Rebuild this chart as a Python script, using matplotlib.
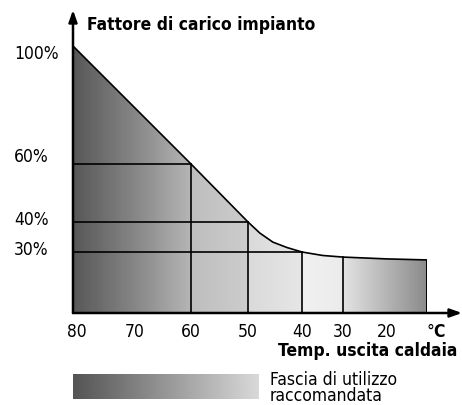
import numpy as np
import matplotlib

matplotlib.use("Agg")
import matplotlib.pyplot as plt
from matplotlib.patches import Polygon
from matplotlib.scale import FuncScale

plt.rcParams["font.family"] = ["DejaVu Sans"]
plt.rcParams["font.stretch"] = "condensed"

# curve: boiler outlet temperature (°C) vs plant load factor (%)
temp = [80, 60, 50, 47.8, 45.4, 42.8, 40, 35, 30, 20, 11]
load = [100, 60, 40, 36.3, 33.3, 31.5, 30, 28.3, 27.5, 26.6, 26.1]

x_ticks = [80, 70, 60, 50, 40, 30, 20]
y_ticks = [100, 60, 40, 30]
y_tick_labels = ["100%", "60%", "40%", "30%"]

# grid cells: (temperature, load) corners drawn back to the axes
h_lines = [(60, 60), (50, 40), (40, 30)]
v_lines = [(60, 60), (50, 40), (40, 30), (30, 27.5), (11, 26.1)]

# schematic (non-linear) axes as drawn in the original
x_src = [11, 20, 30, 40, 50, 60, 70, 80]
x_px = [0, 40, 84, 125, 179, 236, 292, 354]
y_src = [0, 30, 40, 60, 100]
y_px = [0, 61, 91, 149, 267]


def fx(t):
    return np.interp(t, x_src, x_px)


def fx_inv(p):
    return np.interp(p, x_px, x_src)


def fy(v):
    return np.interp(v, y_src, y_px)


def fy_inv(p):
    return np.interp(p, y_px, y_src)


W, H = 462, 406
fig = plt.figure(figsize=(W / 100, H / 100), dpi=100)
ax = fig.add_axes([73 / W, (H - 314) / H, 354 / W, 267 / H])
ax.set_xscale(FuncScale(ax, (fx, fx_inv)))
ax.set_yscale(FuncScale(ax, (fy, fy_inv)))
ax.set_xlim(80, 11)
ax.set_ylim(0, 100)

# gradient fill clipped to the area under the curve
g_t = [11, 30, 30, 40, 40, 50, 50, 60, 60, 80]
g_v = [0.54, 0.89, 0.92, 0.94, 0.90, 0.85, 0.80, 0.74, 0.71, 0.34]
xe = np.linspace(80, 11, 400)
xc = (xe[:-1] + xe[1:]) / 2
shade = np.interp(xc, g_t, g_v)
mesh = ax.pcolormesh(xe, [0, 100], shade[None, :], cmap="gray", vmin=0,
                     vmax=1, shading="flat", zorder=1)
poly = Polygon(list(zip(temp, load)) + [(11, 0), (80, 0)], closed=True,
               facecolor="none", edgecolor="black", lw=1.2, zorder=3)
ax.add_patch(poly)
mesh.set_clip_path(poly)

for t, v in h_lines:
    ax.plot([80, t], [v, v], color="black", lw=1.2, zorder=3)
for t, v in v_lines:
    ax.plot([t, t], [0, v], color="black", lw=1.2, zorder=3)

for s in ax.spines.values():
    s.set_visible(False)
ax.set_xticks([])
ax.set_yticks([])

# axes with arrows
arrow = dict(arrowstyle="-|>,head_width=0.25,head_length=0.7",
             color="black", lw=1.8, shrinkA=0, shrinkB=0)
ax.annotate("", xy=(0, 303 / 267), xytext=(0, 0),
            xycoords="axes fraction", arrowprops=arrow)
ax.annotate("", xy=(389 / 354, 0), xytext=(0, 0),
            xycoords="axes fraction", arrowprops=arrow)

# tick labels
for t in x_ticks:
    ax.annotate(str(t), xy=(t, 0), xycoords=("data", "axes fraction"),
                xytext=(3 if t == 80 else 0, -13), textcoords="offset points",
                ha="center", va="center", fontsize=12.5)
y_off = [-5, 6, 2, 2]
for v, lab, dy in zip(y_ticks, y_tick_labels, y_off):
    ax.annotate(lab, xy=(14 / W, v), xycoords=("figure fraction", "data"),
                xytext=(0, dy), textcoords="offset points",
                ha="left", va="center", fontsize=12.5)

fig.text(87 / W, 1 - 25 / H, "Fattore di carico impianto", fontsize=12.5,
         fontweight="bold", ha="left", va="center")
fig.text(426 / W, 1 - 332 / H, "°", fontsize=12.5, ha="left", va="center")
fig.text(433 / W, 1 - 332 / H, "C", fontsize=12.5, fontweight="bold",
         ha="left", va="center")
fig.text(457 / W, 1 - 351 / H, "Temp. uscita caldaia", fontsize=12.5,
         fontweight="bold", ha="right", va="center")

# legend bar
lax = fig.add_axes([73 / W, (H - 400) / H, 186 / W, 25 / H])
lax.imshow(np.linspace(0.33, 0.85, 256)[None, :], cmap="gray", vmin=0,
           vmax=1, aspect="auto")
lax.set_axis_off()
fig.text(270 / W, 1 - 388 / H, "Fascia di utilizzo\nraccomandata",
         fontsize=12.5, ha="left", va="center", linespacing=0.9)

fig.savefig("out.png", dpi=100)
